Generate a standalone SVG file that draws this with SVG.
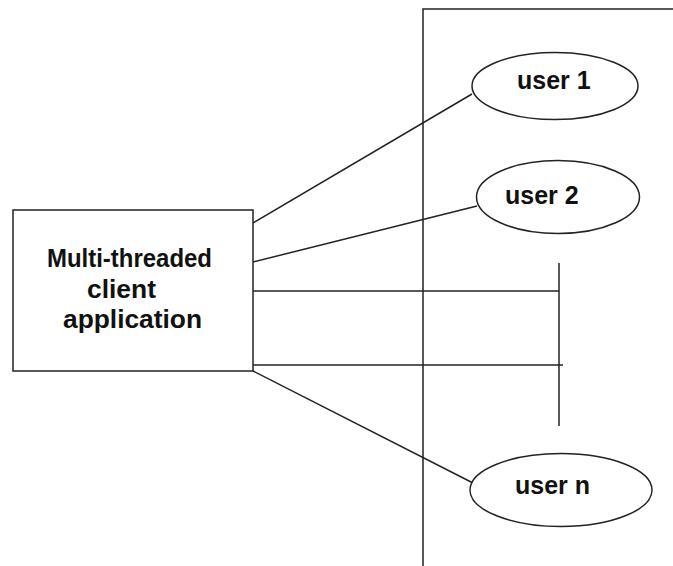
<svg xmlns="http://www.w3.org/2000/svg" width="673" height="566" viewBox="0 0 673 566">
  <style>
    .ln { stroke: #222; stroke-width: 1.5; fill: none; }
    .shape { stroke: #222; stroke-width: 1.5; fill: #fff; }
    .lbl { font-family: "Liberation Sans", Arial, sans-serif; font-weight: bold; fill: #111; }
  </style>
  <rect width="673" height="566" fill="#fff"/>

  <!-- server boundary -->
  <g id="server">
    <path class="ln" d="M423,566 V9 H673"/>
  </g>

  <!-- connectors -->
  <g id="connectors">
    <line class="ln" x1="253" y1="223" x2="472" y2="94"/>
    <line class="ln" x1="253" y1="262" x2="477" y2="206"/>
    <line class="ln" x1="253" y1="291" x2="559" y2="291"/>
    <line class="ln" x1="559" y1="263" x2="559" y2="426"/>
    <line class="ln" x1="253" y1="365" x2="563" y2="365"/>
    <line class="ln" x1="253" y1="371" x2="473" y2="483"/>
  </g>

  <g id="client">
    <rect class="shape" x="13" y="210" width="240" height="161"/>
    <text class="lbl" font-size="25" x="47" y="267" textLength="165" lengthAdjust="spacingAndGlyphs">Multi-threaded</text>
    <text class="lbl" font-size="25" x="87" y="298" textLength="69" lengthAdjust="spacingAndGlyphs">client</text>
    <text class="lbl" font-size="25" x="63" y="328" textLength="139" lengthAdjust="spacingAndGlyphs">application</text>
  </g>

  <g id="user1">
    <ellipse class="shape" cx="555" cy="86" rx="83" ry="33.5"/>
    <text class="lbl" font-size="25" x="517" y="89">user 1</text>
  </g>

  <g id="user2">
    <ellipse class="shape" cx="558" cy="197" rx="81.5" ry="36.5"/>
    <text class="lbl" font-size="25" x="505" y="204">user 2</text>
  </g>

  <g id="usern">
    <ellipse class="shape" cx="561" cy="490" rx="91" ry="36.5"/>
    <text class="lbl" font-size="25" x="515" y="494">user n</text>
  </g>
</svg>
